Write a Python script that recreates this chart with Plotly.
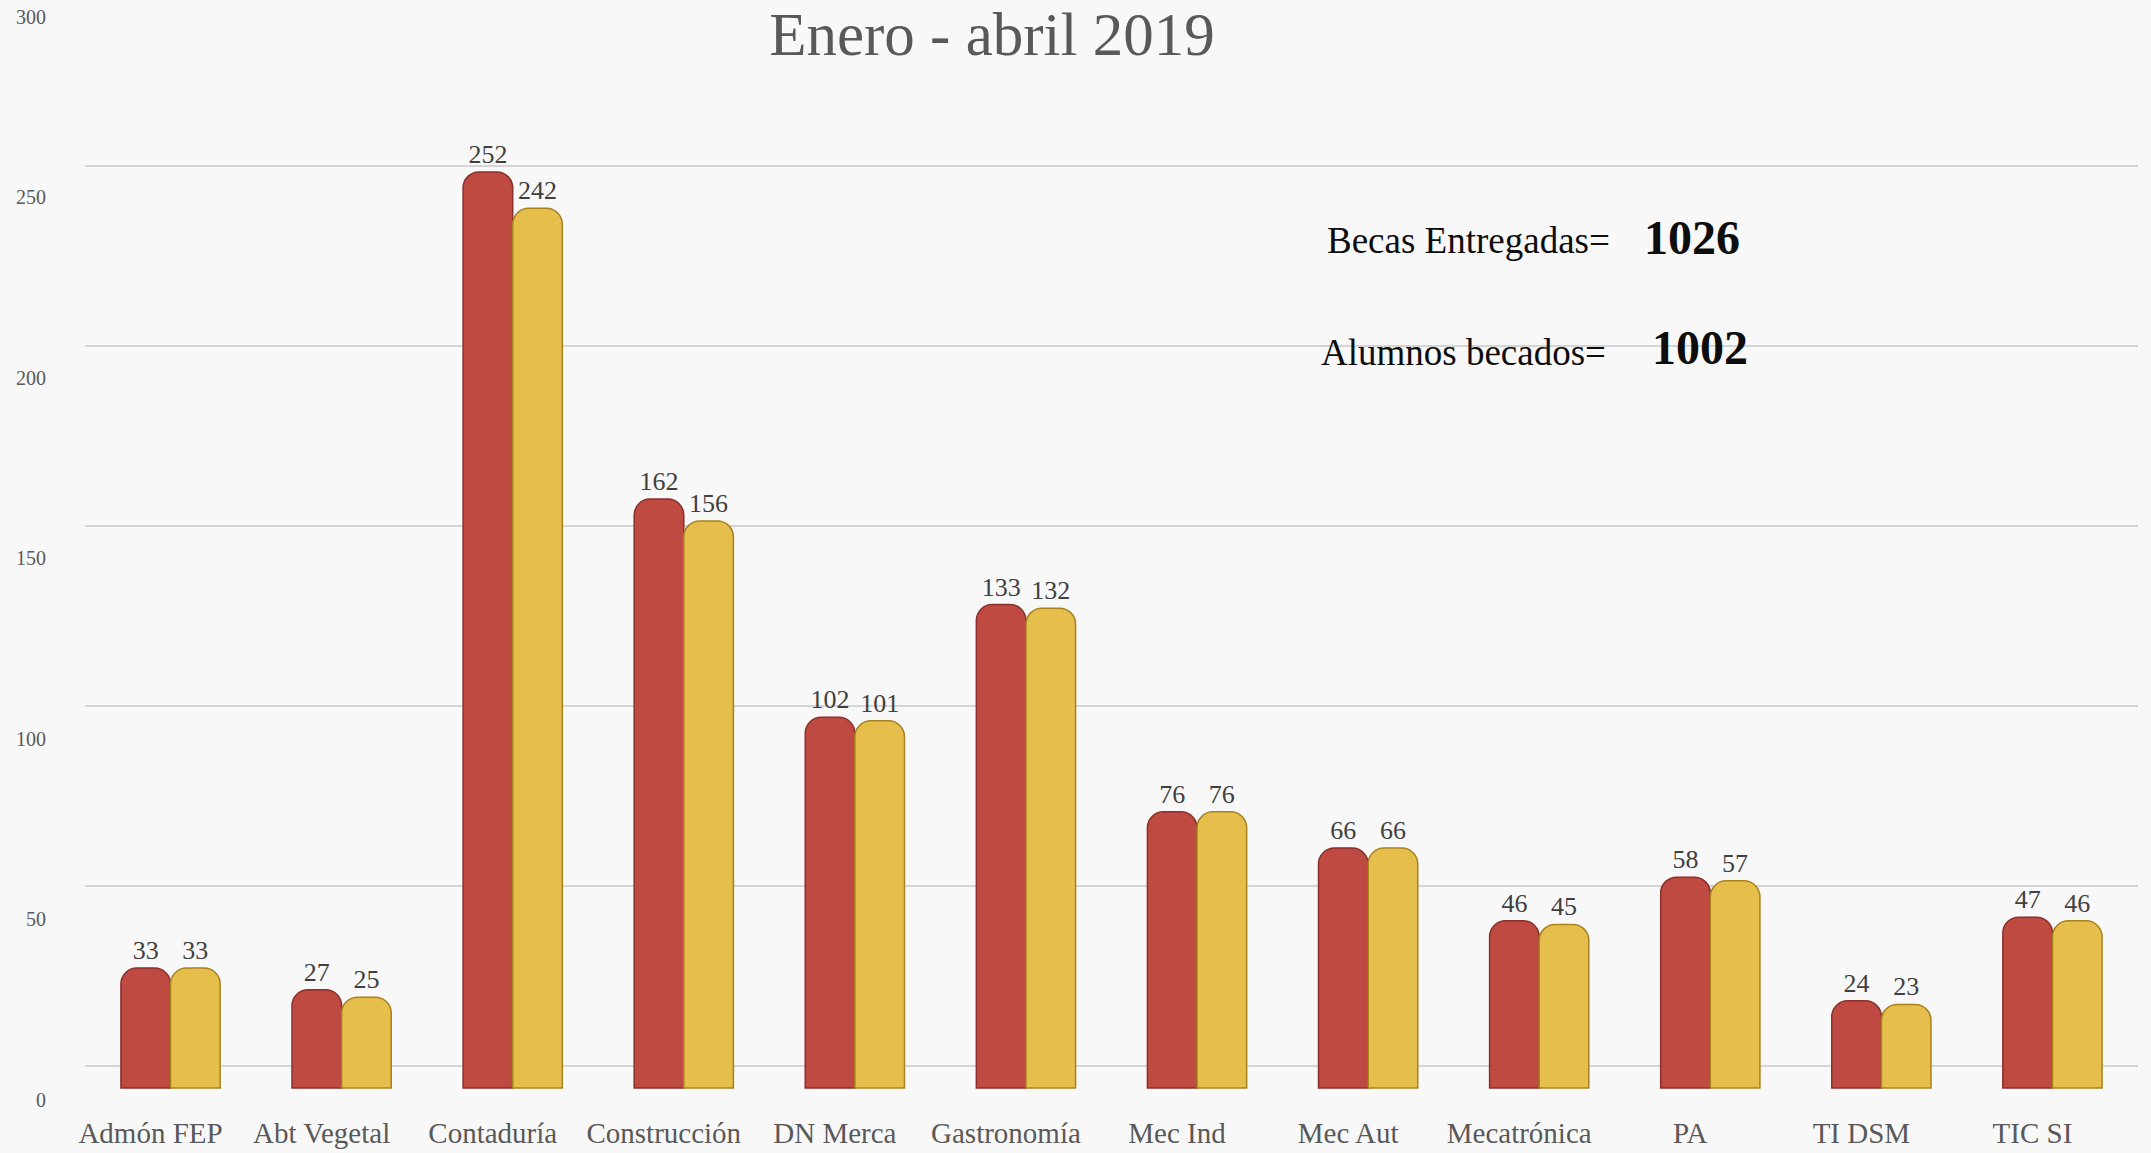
import plotly.graph_objects as go

categories = ["Admón FEP", "Abt Vegetal", "Contaduría", "Construcción", "DN Merca",
              "Gastronomía", "Mec Ind", "Mec Aut", "Mecatrónica", "PA", "TI DSM", "TIC SI"]
becas = [33, 27, 252, 162, 102, 133, 76, 66, 46, 58, 24, 47]
alumnos = [33, 25, 242, 156, 101, 132, 76, 66, 45, 57, 23, 46]
y_ticks = [0, 50, 100, 150, 200, 250, 300]
title_text = "Enero - abril 2019"
total_becas = 1026
total_alumnos = 1002

FONT = "Liberation Serif, Times New Roman, serif"
RED = "#bf4a42"
RED_EDGE = "#8a2f29"
GOLD = "#e6be4c"
GOLD_EDGE = "#a8821f"

W, H = 2151, 1153
ML, MR, MT, MB = 85, 13, 0, 43
PW, PH = W - ML - MR, H - MT - MB


def px(x):
    return (x - ML) / PW


def py(y):
    return 1 - (y - MT) / PH


fig = go.Figure()
fig.add_trace(go.Bar(
    x=categories, y=becas, name="Becas entregadas",
    marker=dict(color=RED, line=dict(color=RED_EDGE, width=1.5)),
    text=becas, textposition="outside", cliponaxis=False,
    textfont=dict(size=26, color="#404040", family=FONT),
    hoverinfo="x+y",
))
fig.add_trace(go.Bar(
    x=categories, y=alumnos, name="Alumnos becados",
    marker=dict(color=GOLD, line=dict(color=GOLD_EDGE, width=1.5)),
    text=alumnos, textposition="outside", cliponaxis=False,
    textfont=dict(size=26, color="#404040", family=FONT),
    hoverinfo="x+y",
))
# invisible carriers so that the overlaid value axes (labels / back-wall grid) are drawn
fig.add_trace(go.Scatter(x=categories, y=becas, yaxis="y2", mode="none",
                         hoverinfo="skip", showlegend=False))
fig.add_trace(go.Scatter(x=categories, y=becas, yaxis="y3", mode="none",
                         hoverinfo="skip", showlegend=False))

fig.update_layout(
    width=W, height=H,
    margin=dict(l=ML, r=MR, t=MT, b=MB),
    barmode="group", bargap=0.42, bargroupgap=0, barcornerradius=16,
    paper_bgcolor="#f8f8f8", plot_bgcolor="rgba(0,0,0,0)",
    showlegend=False,
    font=dict(family=FONT, color="#595959"),
    title=dict(text=title_text, x=723 * 1.372 / W, xanchor="center", y=1 - 34 / H,
               yanchor="middle", yref="container",
               font=dict(size=61, color="#595959", family=FONT)),
    xaxis=dict(range=[-0.5, 11.5], showgrid=False, showline=False, zeroline=False,
               ticks="", tickfont=dict(size=29, color="#595959"),
               ticklabelshift=-20, ticklabelstandoff=3),
    yaxis=dict(range=[-6.05, 299.3], showgrid=False, showticklabels=False,
               zeroline=False, showline=False),
    yaxis2=dict(overlaying="y", side="left", range=[-2.77, 304.7], tickvals=y_ticks,
                showgrid=False, zeroline=False, showline=False, ticks="",
                tickfont=dict(size=20, color="#595959"), ticklabelstandoff=38),
    yaxis3=dict(overlaying="y", side="left", range=[-12.2, 296.1], tickvals=y_ticks,
                showgrid=True, gridcolor="#d4d4d4", gridwidth=2,
                showticklabels=False, zeroline=False, showline=False, ticks=""),
)

fig.add_annotation(text="Becas Entregadas=", xref="paper", yref="paper",
                   x=px(1612), y=py(240), xanchor="right", yanchor="middle",
                   showarrow=False, font=dict(size=37, color="#0d0d0d", family=FONT))
fig.add_annotation(text=f"<b>{total_becas}</b>", xref="paper", yref="paper",
                   x=px(1642), y=py(237), xanchor="left", yanchor="middle",
                   showarrow=False, font=dict(size=48, color="#0d0d0d", family=FONT))
fig.add_annotation(text="Alumnos becados=", xref="paper", yref="paper",
                   x=px(1608), y=py(352), xanchor="right", yanchor="middle",
                   showarrow=False, font=dict(size=37, color="#0d0d0d", family=FONT))
fig.add_annotation(text=f"<b>{total_alumnos}</b>", xref="paper", yref="paper",
                   x=px(1650), y=py(347), xanchor="left", yanchor="middle",
                   showarrow=False, font=dict(size=48, color="#0d0d0d", family=FONT))

fig.write_html("out.html", config={"displayModeBar": False},
               post_script="document.body.style.margin='0';")
